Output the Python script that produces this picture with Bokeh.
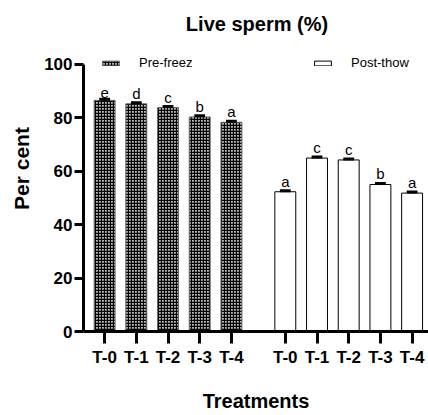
from bokeh.plotting import figure
from bokeh.models import Range1d, FixedTicker, Legend, LegendItem, ColumnDataSource, Label
from bokeh.core.properties import value
from bokeh.embed import file_html
from bokeh.resources import INLINE

title_text = "Live sperm (%)"
treatments = ["T-0", "T-1", "T-2", "T-3", "T-4"]
pre_values = [86.5, 85.2, 83.8, 80.3, 78.3]
post_values = [52.3, 64.9, 64.2, 55.0, 51.8]
pre_sem = [0.4, 0.4, 0.4, 0.4, 0.4]
post_sem = [0.4, 0.4, 0.4, 0.4, 0.4]
pre_letters = ["e", "d", "c", "b", "a"]
post_letters = ["a", "c", "c", "b", "a"]
group_labels = ["Pre-freez", "Post-thow"]

group_offset = 5.7
bar_width = 0.66
cap_half = 0.17

pre_x = [round(i, 3) for i in range(len(treatments))]
post_x = [round(i + group_offset, 3) for i in range(len(treatments))]


def make_source(xs, vals, sems, letters):
    return ColumnDataSource(dict(
        x=xs, top=vals,
        up=[v + s for v, s in zip(vals, sems)],
        xl=[x - cap_half for x in xs], xr=[x + cap_half for x in xs],
        letter=letters,
    ))


pre_src = make_source(pre_x, pre_values, pre_sem, pre_letters)
post_src = make_source(post_x, post_values, post_sem, post_letters)

W, H = 428, 415
BL, BR, BT, BB = 83, 0, 5, 84

# frame extends up to the title area; the y axis line is bounded to 0..100
p = figure(width=W, height=H, output_backend="svg", toolbar_location=None,
           x_range=Range1d(-0.666, 10.217), y_range=Range1d(0, 122),
           min_border_left=BL, min_border_right=BR, min_border_top=BT, min_border_bottom=BB)

pre_r = p.vbar(x="x", top="top", width=bar_width, bottom=0, source=pre_src,
               fill_color="#bbbbbb", hatch_pattern="cross", hatch_scale=3, hatch_weight=1.3,
               hatch_color="black", line_color="#666666", line_width=1)
post_r = p.vbar(x="x", top="top", width=bar_width, bottom=0, source=post_src,
                fill_color="white", line_color="black", line_width=1)

for src in (pre_src, post_src):
    p.segment(x0="x", y0="top", x1="x", y1="up", source=src, line_color="black", line_width=2)
    p.segment(x0="xl", y0="up", x1="xr", y1="up", source=src, line_color="black", line_width=3)
    p.text(x="x", y="up", text="letter", source=src, text_align="center",
           text_baseline="bottom", y_offset=-1, text_font=value("Liberation Sans"),
           text_font_size="15px", text_color="black")

for label, rend, loc in ((group_labels[0], pre_r, (17, 261)), (group_labels[1], post_r, (229, 261))):
    leg = Legend(items=[LegendItem(label=label, renderers=[rend])], location=loc,
                 border_line_color=None, background_fill_alpha=0, padding=0, margin=0,
                 glyph_width=21, glyph_height=6, label_standoff=18, label_height=14,
                 label_text_font_size="13px", label_text_font="Liberation Sans",
                 label_text_color="black", spacing=0)
    p.add_layout(leg)

# title, placed in screen units relative to the plot frame
frame_w = W - BL - BR
p.add_layout(Label(x=frame_w / 2 + 1, y=(H - BB) - 23, x_units="screen", y_units="screen",
                   text=title_text, text_align="center", text_baseline="middle",
                   text_font="Liberation Sans", text_font_size="20px",
                   text_font_style="bold", text_color="black"))

p.xgrid.grid_line_color = None
p.ygrid.grid_line_color = None
p.outline_line_color = None

# x axis
p.xaxis.ticker = FixedTicker(ticks=pre_x + post_x)
p.xaxis.major_label_overrides = {x: t for x, t in zip(pre_x + post_x, treatments + treatments)}
p.xaxis.axis_label = "Treatments"
p.xaxis.axis_line_width = 3
p.xaxis.major_tick_line_width = 3
p.xaxis.major_tick_out = 12
p.xaxis.major_tick_in = 0
p.xaxis.minor_tick_line_color = None
p.xaxis.major_label_standoff = 4
p.xaxis.axis_label_standoff = 20
p.xaxis.major_label_text_font_size = "17px"

# y axis
p.yaxis.ticker = FixedTicker(ticks=[0, 20, 40, 60, 80, 100])
p.yaxis.bounds = (0, 100)
p.yaxis.axis_label = "Per cent"
p.yaxis.axis_line_width = 3
p.yaxis.major_tick_line_width = 3
p.yaxis.major_tick_out = 9
p.yaxis.major_tick_in = 0
p.yaxis.minor_tick_line_color = None
p.yaxis.major_label_standoff = 2
p.yaxis.axis_label_standoff = 8
p.yaxis.major_label_text_font_size = "17px"

for ax in (p.xaxis, p.yaxis):
    ax.axis_line_color = "black"
    ax.major_tick_line_color = "black"
    ax.major_label_text_font = "Liberation Sans"
    ax.major_label_text_font_style = "bold"
    ax.major_label_text_color = "black"
    ax.axis_label_text_font = "Liberation Sans"
    ax.axis_label_text_font_style = "bold"
    ax.axis_label_text_color = "black"
p.xaxis.axis_label_text_font_size = "20px"
p.yaxis.axis_label_text_font_size = "21px"

open("out.html", "w").write(file_html(p, INLINE))
